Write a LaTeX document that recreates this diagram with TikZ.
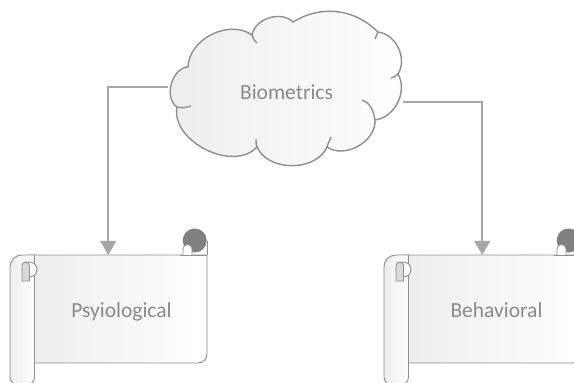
\documentclass[tikz,border=0pt]{standalone}
\usepackage{fontspec}
\setmainfont{Carlito}
\usetikzlibrary{arrows.meta}
\definecolor{lineGray}{HTML}{8F8F8F}
\definecolor{linkGray}{HTML}{A6A6A6}
\definecolor{textGray}{HTML}{8A8A8A}
\definecolor{curlDark}{HTML}{808080}
\definecolor{curlLight}{HTML}{D9D9D9}
\definecolor{paperShade}{HTML}{EDEDED}
\tikzset{
  outline/.style={draw=lineGray, line width=0.9pt},
  cloudline/.style={draw=lineGray, line width=1.4pt},
  paper/.style={fill=white, path picture={
    \shade[left color=paperShade, right color=white]
      (path picture bounding box.south west) rectangle (path picture bounding box.north east);}},
  caption/.style={text=textGray, font=\fontsize{21.5}{25}\selectfont, inner sep=0pt, anchor=base},
  area/.style={inner sep=0pt, draw=none},
  link/.style={draw=linkGray, line width=2pt, -{Triangle[width=16pt,length=14pt]}},
  % scroll drawn from the top-left corner of its roll
  pics/scroll/.style={code={
    % sheet with rounded lower right corner
    \path[outline, paper] (20,0) -- (197,0) -- (197,99)
      arc[start angle=0, end angle=-90, radius=9pt] -- (20,108) -- cycle;
    % rolled edge above the upper right corner
    \draw[outline] (197,0) -- (197,-14.5);
    \fill[curlDark] (184.7,-14.5) circle[radius=12pt];
    \filldraw[draw=lineGray, line width=0.8pt, fill=white] (173,0) -- (173,-6)
      arc[start angle=180, end angle=0, radius=4.5pt] -- (182,0);
    \draw[outline] (170,0) -- (197,0);
    % vertical roll on the left
    \path[outline, paper] (24.5,0) -- (12,0) arc[start angle=90, end angle=180, radius=12pt]
      -- (0,122) arc[start angle=180, end angle=270, radius=8pt]
      -- (16.5,130) arc[start angle=270, end angle=360, radius=8pt] -- cycle;
    \filldraw[outline, fill=white] (19.5,14.5) circle[radius=7.5pt];
    \filldraw[outline, fill=curlLight] (12,26) -- (12,10.75)
      arc[start angle=180, end angle=0, radius=3.75pt] -- (19.5,26) -- cycle;
  }}
}
\begin{document}
\begin{tikzpicture}[x=1pt, y=-1pt]
  \clip (0,0) rectangle (574,383);
  \fill[white] (0,0) rectangle (574,383);

  % cloud
  \path[cloudline, paper] (177,107) to[bend left=72] (188,67) to[bend left=62] (252,35)
    to[bend left=62] (293,22) to[bend left=38] (378,32) to[bend left=58] (398,74)
    to[bend left=56] (375,120) to[bend left=64] (327,147) to[bend left=66] (257,147)
    to[bend left=74] (177,107) -- cycle;
  \draw[cloudline] (177,107) to[out=-15, in=195] (191,106);
  \draw[cloudline] (252,35) to[out=-70, in=150] (257,43);
  \draw[cloudline] (378,32) to[out=-110, in=60] (375,39);
  \draw[cloudline] (398,74) to[out=215, in=10] (391,78);
  \draw[cloudline] (362,100) to[out=-20, in=100] (375,120);
  \draw[cloudline] (327,147) to[out=75, in=250] (331,137);
  \draw[cloudline] (257,147) to[out=100, in=260] (256,139);
  \node[area, minimum width=236pt, minimum height=157pt] (bio) at (285,91.5) {};
  \node[caption] (bioText) at (286.5,99.3) {Biometrics};
  \coordinate (bioL) at (167.5,87);
  \coordinate (bioR) at (403,102);

  % scrolls
  \pic at (10,255) {scroll};
  \pic at (384,255) {scroll};
  \node[area, minimum width=172.5pt, minimum height=108pt] (psy) at (120.75,309) {};
  \node[area, minimum width=172.5pt, minimum height=108pt] (beh) at (494.75,309) {};
  \node[caption] (psyText) at (121.5,317.3) {Psyiological};
  \node[caption] (behText) at (496.5,317.3) {Behavioral};

  % connectors
  \draw[link] (bioL) -| ([xshift=-12.5pt]psy.north);
  \draw[link] (bioR) -| ([xshift=-12.5pt]beh.north);
\end{tikzpicture}
\end{document}
